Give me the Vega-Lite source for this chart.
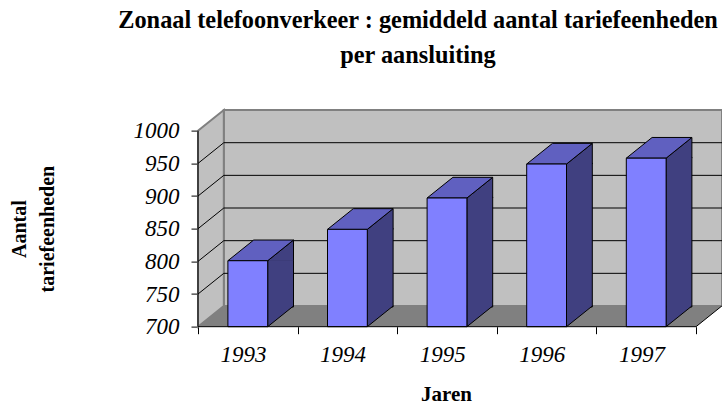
{
  "$schema": "https://vega.github.io/schema/vega-lite/v6.json",
  "width": 524,
  "height": 222.1,
  "autosize": {"type": "none"},
  "padding": {"left": 198, "top": 104.6, "right": 0, "bottom": 81.3},
  "background": "white",
  "config": {
    "view": {"stroke": null},
    "axisY": {"labelOverlap": false, "labelBound": false, "labelFlush": false, "tickCount": 7},
    "axisX": {"labelOverlap": false, "labelBound": false, "labelFlush": false}
  },
  "title": {
    "text": ["Zonaal telefoonverkeer : gemiddeld aantal tariefeenheden", "per aansluiting"],
    "font": "Liberation Serif",
    "fontSize": 24.3,
    "fontWeight": "bold",
    "color": "black",
    "lineHeight": 35,
    "anchor": "middle",
    "dx": -42,
    "offset": 36
  },
  "datasets": {
    "bars": [
      {"year": 1993, "value": 801},
      {"year": 1994, "value": 849},
      {"year": 1995, "value": 897},
      {"year": 1996, "value": 949},
      {"year": 1997, "value": 958}
    ],
    "frame": [{"piece": "frame"}],
    "grid": [{"level": 750}, {"level": 800}, {"level": 850}, {"level": 900}, {"level": 950}]
  },
  "data": {"name": "bars"},
  "layer": [
    {
      "data": {"name": "frame"},
      "mark": {"type": "rect", "fill": "#C0C0C0", "stroke": "#808080", "strokeWidth": 2},
      "encoding": {
        "x": {
          "datum": 1992.759,
          "type": "quantitative",
          "scale": {"domain": [1992.5, 1997.761], "nice": false, "zero": false},
          "axis": {
            "orient": "bottom",
            "values": [1992.5, 1993.5, 1994.5, 1995.5, 1996.5, 1997.5],
            "labelExpr": "datum.value < 1997 ? format(datum.value + 0.5, 'd') : ''",
            "labelOffset": 45,
            "labelOverlap": false,
            "labelFlush": false,
            "labelBound": false,
            "domain": false,
            "grid": false,
            "ticks": true,
            "tickSize": 7,
            "tickColor": "black",
            "tickWidth": 1,
            "labelFont": "Liberation Serif",
            "labelFontStyle": "italic",
            "labelFontSize": 23,
            "labelColor": "black",
            "labelPadding": 10,
            "title": "Jaren",
            "titleFont": "Liberation Serif",
            "titleFontWeight": "bold",
            "titleFontSize": 21,
            "titleColor": "black",
            "titlePadding": 17,
            "titleX": 248
          }
        },
        "x2": {"datum": 1997.761},
        "y": {
          "datum": 731.7,
          "type": "quantitative",
          "scale": {"domain": [700, 1040], "nice": false, "zero": false},
          "axis": {
            "orient": "left",
            "values": [700, 750, 800, 850, 900, 950, 1000],
            "tickCount": 7,
            "format": "d",
            "labelOverlap": false,
            "labelBound": false,
            "labelFlush": false,
            "domain": false,
            "grid": false,
            "tickSize": 7,
            "tickColor": "black",
            "tickWidth": 1,
            "labelFont": "Liberation Serif",
            "labelFontStyle": "italic",
            "labelFontSize": 23,
            "labelColor": "black",
            "labelPadding": 12,
            "title": ["Aantal", "tariefeenheden"],
            "titleFont": "Liberation Serif",
            "titleFontWeight": "bold",
            "titleFontSize": 20,
            "titleColor": "black",
            "titleLineHeight": 28,
            "titlePadding": 76,
            "titleY": 124
          }
        },
        "y2": {"datum": 1031.7}
      }
    },
    {
      "data": {"name": "frame"},
      "mark": {"type": "point", "shape": "M0,0 L498,0 L523.8,-20.7 L25.8,-20.7 Z", "size": 4, "filled": true, "fill": "#808080", "strokeWidth": 0, "opacity": 1},
      "encoding": {
        "x": {"datum": 1992.5, "type": "quantitative"},
        "y": {"datum": 700, "type": "quantitative"}
      }
    },
    {
      "data": {"name": "frame"},
      "mark": {"type": "point", "shape": "M0,0 L0,-196 L25.8,-216.7 L25.8,-20.7 Z", "size": 4, "filled": true, "fill": "#C0C0C0", "stroke": "#808080", "strokeWidth": 2, "opacity": 1},
      "encoding": {
        "x": {"datum": 1992.5, "type": "quantitative"},
        "y": {"datum": 700, "type": "quantitative"}
      }
    },
    {
      "data": {"name": "grid"},
      "mark": {"type": "point", "shape": "M0,0 L25.8,-20.7 L530,-20.7", "size": 4, "filled": false, "fill": "transparent", "stroke": "black", "strokeWidth": 1, "opacity": 1},
      "encoding": {
        "x": {"datum": 1992.5, "type": "quantitative"},
        "y": {"field": "level", "type": "quantitative"}
      }
    },
    {
      "mark": {"type": "rect", "fill": "#404080", "stroke": "black", "strokeWidth": 1, "xOffset": 19.9, "x2Offset": 45.7, "yOffset": -1, "y2Offset": 1},
      "encoding": {
        "x": {"field": "year", "type": "quantitative"},
        "x2": {"field": "year"},
        "y": {"field": "value", "type": "quantitative"},
        "y2": {"datum": 731.7}
      }
    },
    {
      "mark": {"type": "point", "shape": "M19.9,-20.7 L19.9,0 L45.7,-20.7", "size": 4, "filled": true, "fill": "#404080", "stroke": "black", "strokeWidth": 1, "opacity": 1},
      "encoding": {
        "x": {"field": "year", "type": "quantitative"},
        "y": {"datum": 700, "type": "quantitative"}
      }
    },
    {
      "mark": {"type": "point", "shape": "M19.9,0 L45.7,-20.7 L45.7,0", "size": 4, "filled": true, "fill": "#404080", "stroke": "black", "strokeWidth": 1, "opacity": 1},
      "encoding": {
        "x": {"field": "year", "type": "quantitative"},
        "y": {"field": "value", "type": "quantitative"}
      }
    },
    {
      "mark": {"type": "point", "shape": "M-19.9,0 L5.9,-20.7 L45.7,-20.7 L19.9,0 Z", "size": 4, "filled": true, "fill": "#6060C0", "stroke": "black", "strokeWidth": 1, "opacity": 1},
      "encoding": {
        "x": {"field": "year", "type": "quantitative"},
        "y": {"field": "value", "type": "quantitative"}
      }
    },
    {
      "mark": {"type": "rect", "fill": "#8080FF", "stroke": "black", "strokeWidth": 1, "xOffset": -19.9, "x2Offset": 19.9},
      "encoding": {
        "x": {"field": "year", "type": "quantitative"},
        "x2": {"field": "year"},
        "y": {"field": "value", "type": "quantitative"},
        "y2": {"datum": 700}
      }
    },
    {
      "data": {"name": "frame"},
      "mark": {"type": "point", "shape": "M0,0 L498,0 L523.8,-20.7", "size": 4, "filled": false, "fill": "transparent", "stroke": "black", "strokeWidth": 1, "opacity": 1},
      "encoding": {
        "x": {"datum": 1992.5, "type": "quantitative"},
        "y": {"datum": 700, "type": "quantitative"}
      }
    },
    {
      "data": {"name": "frame"},
      "mark": {"type": "rule", "stroke": "black", "strokeWidth": 1},
      "encoding": {
        "x": {"datum": 1992.5, "type": "quantitative"},
        "y": {"datum": 700, "type": "quantitative"},
        "y2": {"datum": 1000}
      }
    }
  ]
}
